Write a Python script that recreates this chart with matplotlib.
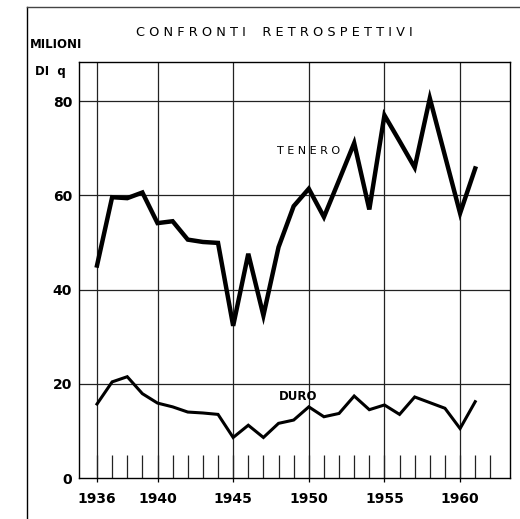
import matplotlib
matplotlib.use("Agg")
import matplotlib.pyplot as plt
from matplotlib.lines import Line2D

# production of wheat, millions of quintals
years = list(range(1936, 1962))
tenero = [45.1, 59.6, 59.4, 60.6, 54.1, 54.5, 50.6, 50.1, 49.9, 32.3, 47.6, 34.5, 49.0,
          57.7, 61.4, 55.4, 63.2, 71.1, 57.0, 77.0, 71.5, 65.9, 80.6, 68.4, 56.2, 65.7]
duro = [15.7, 20.4, 21.5, 17.9, 15.9, 15.1, 14.0, 13.8, 13.5, 8.6, 11.2, 8.6, 11.6,
        12.3, 15.1, 13.0, 13.7, 17.4, 14.5, 15.5, 13.5, 17.2, 16.0, 14.8, 10.5, 16.2]

x_labels = [1936, 1940, 1945, 1950, 1955, 1960]
y_labels = [0, 20, 40, 60, 80]
small_ticks = list(range(1936, 1963))

W, H = 520, 519
fig = plt.figure(figsize=(5.2, 5.19), dpi=100)
ax = fig.add_axes([79 / W, 1 - 478 / H, (510 - 79) / W, (478 - 62) / H])

ax.set_xlim(1934.81, 1963.3)
ax.set_ylim(0, 88.3)

# grid
for y in y_labels[1:]:
    ax.axhline(y, color="#222222", lw=0.9, zorder=1)
for x in x_labels:
    ax.axvline(x, color="#222222", lw=0.9, zorder=1)
ax.vlines(small_ticks, 0, 4.8, color="#222222", lw=0.9, zorder=1)

ax.plot(years, tenero, color="black", lw=3.2, solid_joinstyle="miter", zorder=3)
ax.plot(years, duro, color="black", lw=2.2, solid_joinstyle="miter", zorder=3)

ax.text(1947.9, 69.5, "T E N E R O", fontsize=8, ha="left", va="center")
ax.text(1948.0, 17.2, "DURO", fontsize=8.5, ha="left", va="center", fontweight="bold")

ax.set_xticks(x_labels)
ax.set_xticklabels([str(v) for v in x_labels], fontsize=10, fontweight="bold")
ax.set_yticks(y_labels)
ax.set_yticklabels([str(v) for v in y_labels], fontsize=10, fontweight="bold")
ax.tick_params(axis="x", length=3, width=0.9, pad=7)
ax.tick_params(axis="y", length=0, pad=5)
for s in ax.spines.values():
    s.set_linewidth(1.0)

fig.text(274 / W, 1 - 32 / H, "C O N F R O N T I    R E T R O S P E T T I V I",
         fontsize=9.3, ha="center", va="center")
fig.text(30 / W, 1 - 44 / H, "MILIONI", fontsize=8.5, ha="left", va="center", fontweight="bold")
fig.text(35 / W, 1 - 72 / H, "DI  q", fontsize=8.5, ha="left", va="center", fontweight="bold")

# outer frame of the scanned page
fig.add_artist(Line2D([27 / W, 27 / W], [0, 1 - 7 / H], color="black", lw=1.0))
fig.add_artist(Line2D([27 / W, 1], [1 - 7 / H, 1 - 7 / H], color="#444444", lw=1.0))

fig.savefig("out.png", dpi=100)
